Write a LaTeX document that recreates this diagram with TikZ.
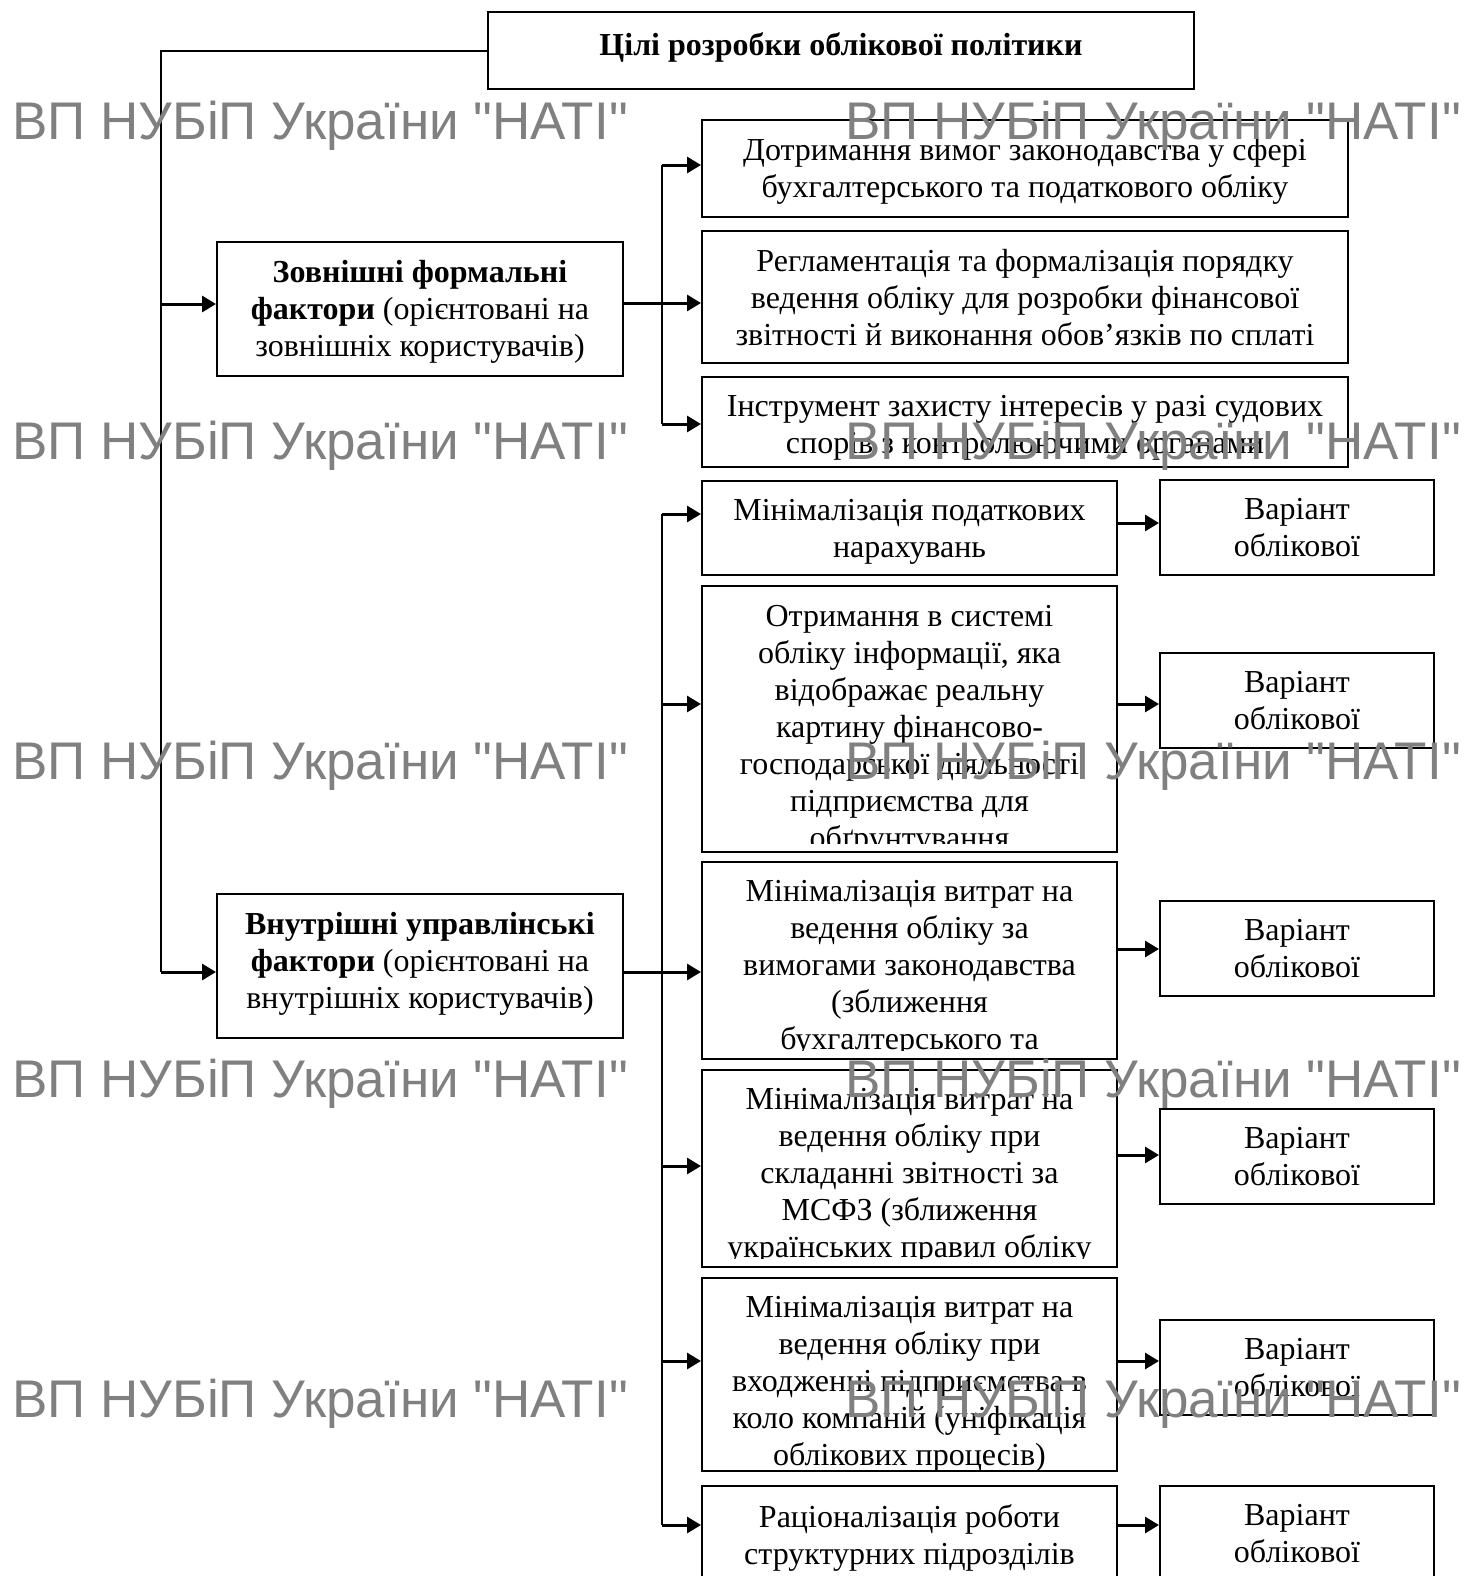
\documentclass[tikz,border=0pt]{standalone}
\usepackage{fontspec}
\setmainfont{Liberation Serif}
\newfontfamily\wmfont{Liberation Sans}
\usepackage{tikz}
\usetikzlibrary{positioning, arrows.meta}
\tikzstyle{box}=[draw, shape=rectangle, line width=1pt, inner sep=0pt, anchor=north west]
\tikzstyle{vbox}=[box, minimum width=137pt, minimum height=47.5pt]
\tikzstyle{txt}=[inner sep=0pt, align=center, font=\fontsize{16}{18.5}\selectfont, execute at begin node=\strut]
\tikzstyle{arr}=[->, line width=1.5pt]
\tikzstyle{bus}=[line width=1pt]
\tikzstyle{wmark}=[inner sep=0pt, anchor=west, text=black!50, font=\wmfont\fontsize{26.5}{30}\selectfont]
\tikzset{>={Triangle[length=7pt,width=8pt]}}

\begin{document}
\begin{tikzpicture}[x=1pt, y=-1pt]
\useasboundingbox (0,0) rectangle (742,788);
\clip (0,0) rectangle (742,788);

% boxes
\node[box, minimum width=353pt, minimum height=38.5pt] (goal) at (243.5,5.5) {};
\node[box, minimum width=203pt, minimum height=67pt] (ext) at (108,120.5) {};
\node[box, minimum width=203pt, minimum height=72pt] (int) at (108,446.5) {};
\node[box, minimum width=323pt, minimum height=48.5pt] (e1) at (350.5,59.5) {};
\node[box, minimum width=323pt, minimum height=66pt] (e2) at (350.5,115) {};
\node[box, minimum width=323pt, minimum height=45pt] (e3) at (350.5,188) {};
\node[box, minimum width=207.5pt, minimum height=47pt] (i1) at (350.5,240) {};
\node[box, minimum width=207.5pt, minimum height=133pt] (i2) at (350.5,292.5) {};
\node[box, minimum width=207.5pt, minimum height=98.5pt] (i3) at (350.5,430.5) {};
\node[box, minimum width=207.5pt, minimum height=98.5pt] (i4) at (350.5,534.5) {};
\node[box, minimum width=207.5pt, minimum height=96.5pt] (i5) at (350.5,638.5) {};
\node[box, minimum width=207.5pt, minimum height=52.5pt] (i6) at (350.5,742.5) {};
\foreach \k/\yy in {1/239.5, 2/326, 3/450, 4/554, 5/659.5, 6/742.5}
  \node[vbox] (v\k) at (579.5,\yy) {};

% texts
\node[txt, below=9pt of goal.north] (goalt) {\textbf{Цілі розробки облікової політики}};
\node[txt, below=9.5pt of ext.north] (extt) {\textbf{Зовнішні формальні}\\ \textbf{фактори} (орієнтовані на\\ зовнішніх користувачів)};
\node[txt, below=9.5pt of int.north] (intt) {\textbf{Внутрішні управлінські}\\ \textbf{фактори} (орієнтовані на\\ внутрішніх користувачів)};
\node[txt, below=9.5pt of e1.north] (e1t) {Дотримання вимог законодавства у сфері\\ бухгалтерського та податкового обліку};
\node[txt, below=9.5pt of e2.north] (e2t) {Регламентація та формалізація порядку\\ ведення обліку для розробки фінансової\\ звітності й виконання обов’язків по сплаті};
\node[txt, below=9.5pt of e3.north] (e3t) {Інструмент захисту інтересів у разі судових\\ спорів з контролюючими органами};
\node[txt, below=9.5pt of i1.north] (i1t) {Мінімалізація податкових\\ нарахувань};
\begin{scope}
\clip (i2.north west) rectangle ([yshift=5pt]i2.south east);
\node[txt, below=10pt of i2.north] (i2t) {Отримання в системі\\ обліку інформації, яка\\ відображає реальну\\ картину фінансово-\\ господарської діяльності\\ підприємства для\\ обґрунтування};
\end{scope}
\begin{scope}
\clip (i3.north west) rectangle ([yshift=5pt]i3.south east);
\node[txt, below=9.5pt of i3.north] (i3t) {Мінімалізація витрат на\\ ведення обліку за\\ вимогами законодавства\\ (зближення\\ бухгалтерського та};
\end{scope}
\begin{scope}
\clip (i4.north west) rectangle ([yshift=5pt]i4.south east);
\node[txt, below=9.5pt of i4.north] (i4t) {Мінімалізація витрат на\\ ведення обліку при\\ складанні звітності за\\ МСФЗ (зближення\\ українських правил обліку};
\end{scope}
\node[txt, below=9.5pt of i5.north] (i5t) {Мінімалізація витрат на\\ ведення обліку при\\ входженні підприємства в\\ коло компаній (уніфікація\\ облікових процесів)};
\node[txt, below=9.5pt of i6.north] (i6t) {Раціоналізація роботи\\ структурних підрозділів};
\foreach \k in {1,...,6}
  \node[txt, below=9.5pt of v\k.north] (v\k t) {Варіант\\ облікової};

% left line
\coordinate (lb1) at (80.5,152);
\coordinate (lb2) at (80.5,486);
\draw[bus] (goal.west) -| (lb2);
\draw[arr] (lb1) -- (lb1 -| ext.west);
\draw[arr] (lb2) -- (lb2 -| int.west);

% external bus
\coordinate (eb1) at (331,82.5);
\coordinate (eb2) at (331,151.5);
\coordinate (eb3) at (331,212);
\draw[bus] (eb1) -- (eb3);
\draw[arr] (eb2 -| ext.east) -- (eb2 -| e2.west);
\draw[arr] (eb1) -- (eb1 -| e1.west);
\draw[arr] (eb3) -- (eb3 -| e3.west);

% internal bus
\foreach \k/\yy in {1/257, 2/352, 3/486, 4/583, 5/680.5, 6/762.5}
  \coordinate (ib\k) at (331,\yy);
\draw[bus] (ib1) -- (ib6);
\draw[arr] (ib3 -| int.east) -- (ib3 -| i3.west);
\foreach \k in {1,2,4,5,6}
  \draw[arr] (ib\k) -- (ib\k -| i\k.west);
\foreach \k/\yy in {1/261.5, 2/352, 3/474.5, 4/577.5, 5/680.5, 6/762.5}{
  \coordinate (va\k) at (558,\yy);
  \draw[arr] (va\k) -- (va\k -| v\k.west);
}

% watermark
\foreach \r/\yy in {1/63, 2/223, 3/383, 4/542, 5/702}{
  \node[wmark] (wl\r) at (6,\yy) {ВП НУБіП України "НАТІ"};
  \node[wmark] (wr\r) at (422.5,\yy) {ВП НУБіП України "НАТІ"};
}
\end{tikzpicture}
\end{document}
